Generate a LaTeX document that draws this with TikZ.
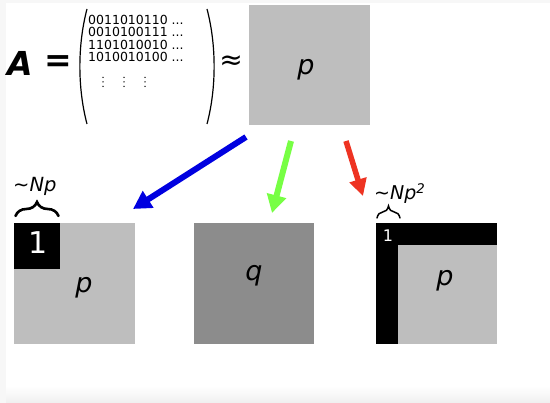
\documentclass[tikz,border=0pt]{standalone}
\usepackage{fontspec}
\setmainfont{DejaVu Sans}
\usetikzlibrary{arrows.meta,decorations.pathreplacing}
\definecolor{sqlight}{HTML}{BEBEBE}
\definecolor{sqdark}{HTML}{8C8C8C}
\definecolor{arblue}{HTML}{0000E0}
\definecolor{argreen}{HTML}{77FF44}
\definecolor{arred}{HTML}{EE3322}
\definecolor{edge}{HTML}{F7F7F7}
\tikzset{
  sq/.style={fill=#1, draw=none},
  lbl/.style={font=\fontsize{27}{30}\selectfont\itshape, inner sep=0pt},
  mrow/.style={font=\fontsize{12.5}{13}\selectfont, anchor=west, inner sep=0pt},
  bigarrow/.style={draw=#1, line width=6pt, -{Triangle[length=18pt,width=19pt,fill=#1]}},
  bracestyle/.style={decorate, decoration={brace, amplitude=#1}, line cap=round},
}
\begin{document}
\begin{tikzpicture}[x=1pt,y=-1pt]
\useasboundingbox (0,0) rectangle (550,403);
% background frame
\fill[edge] (0,0) rectangle (550,403);
\fill[white] (6,3) rectangle (550,386);
\shade[top color=white, bottom color=edge!95!black!60!edge] (6,386) rectangle (550,403);

% left side of the equation
\node[inner sep=0pt, font=\fontsize{33}{34}\selectfont\bfseries\itshape] (A) at (20,63.5) {A};
\node[inner sep=0pt, font=\fontsize{33}{34}\selectfont\bfseries] (eq) at (58,64) {=};
\draw[line width=1.2pt] (87,9) .. controls (77.5,45) and (77.5,88) .. (87,124);
\draw[line width=1.2pt] (207,9) .. controls (216.5,45) and (216.5,88) .. (207,124);
\node[mrow] (r1) at (88,19.5) {0011010110 ...};
\node[mrow] (r2) at (88,32) {0010100111 ...};
\node[mrow] (r3) at (88,44.5) {1101010010 ...};
\node[mrow] (r4) at (88,57) {1010010100 ...};
\foreach \x in {103,124,145}{
  \foreach \y in {77.5,82,86.5}{
    \fill (\x,\y) circle (0.75);
  }
}
\node[inner sep=0pt, font=\fontsize{28}{30}\selectfont] (approx) at (231,63) {≈};

% top square
\fill[sqlight] (249,5) rectangle (370,125);
\node[lbl] (ptop) at (306,70) {p};

% arrows
\coordinate (bs) at (246,137);
\coordinate (be) at (133,209);
\coordinate (gs) at (291,141);
\coordinate (ge) at (272,213);
\coordinate (rs) at (346,141);
\coordinate (re) at (363,196);
\draw[bigarrow=arblue] (bs) -- (be);
\draw[bigarrow=argreen] (gs) -- (ge);
\draw[line width=5.5pt, draw=arred, -{Triangle[length=17pt,width=17pt,fill=arred]}] (rs) -- (re);

% bottom left square
\fill[sqlight] (14,223) rectangle (135,344);
\fill[black] (14,223) rectangle (60,269);
\node[inner sep=0pt, text=white, font=\fontsize{30}{32}\selectfont] (one1) at (38,243) {1};
\node[lbl] (pleft) at (84,288) {p};
\draw[line width=2.6pt, bracestyle=14pt] (15.5,216) -- (58.5,216);
\node[inner sep=0pt, anchor=base west, font=\fontsize{19.5}{21}\selectfont] (np) at (13,192) {∼\textit{Np}};

% middle square
\fill[sqdark] (194,223) rectangle (314,344);
\node[lbl] (q) at (254,276) {q};

% right square
\fill[sqlight] (376,223) rectangle (497,344);
\fill[black] (376,223) rectangle (497,245);
\fill[black] (376,223) rectangle (398,344);
\node[inner sep=0pt, text=white, font=\fontsize{16}{17}\selectfont] (one2) at (388,236) {1};
\node[lbl] (pright) at (445,281) {p};
\draw[line width=1.5pt, bracestyle=12pt] (377,218) -- (400,218);
\node[inner sep=0pt, anchor=base west, font=\fontsize{19}{21}\selectfont] (np2) at (374,200) {∼\textit{Np}\textsuperscript{\textit{2}}};
\end{tikzpicture}
\end{document}
